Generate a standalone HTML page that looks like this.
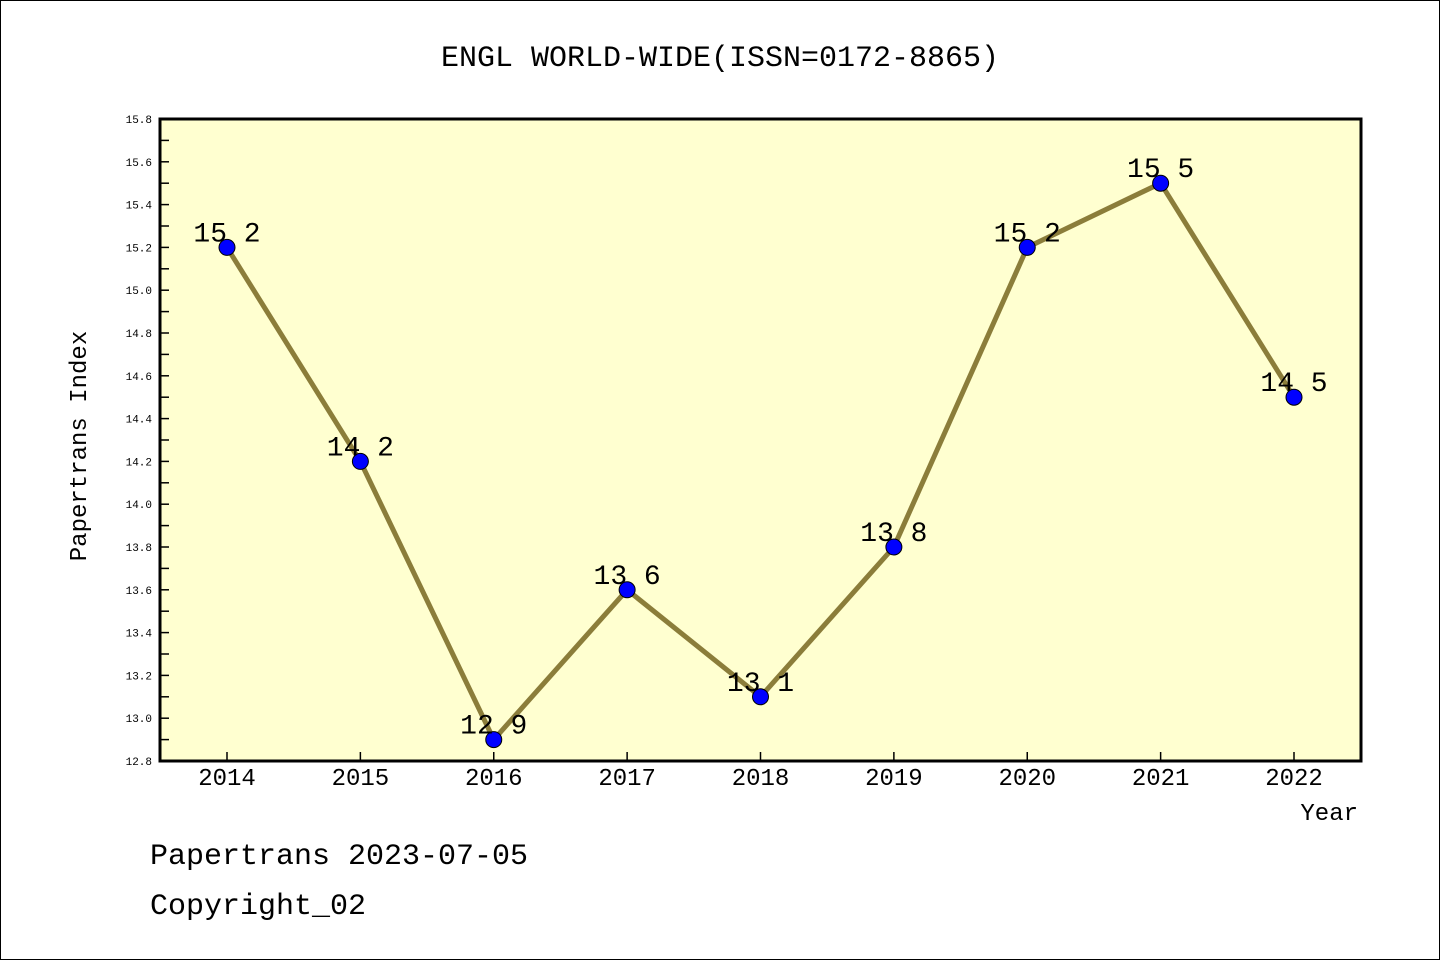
<!DOCTYPE html>
<html><head><meta charset="utf-8"><style>
body{margin:0;background:#fff}
svg text{font-family:"WenQuanYi Zen Hei Mono","Liberation Mono",monospace}
</style></head><body>
<svg width="1440" height="960">
<rect x="0.5" y="0.5" width="1439" height="959" fill="#fff" stroke="#000"/>
<text x="720" y="66" font-size="30" text-anchor="middle">ENGL WORLD-WIDE(ISSN=0172-8865)</text>
<rect x="160" y="119" width="1201" height="642" fill="#ffffd0" stroke="#000" stroke-width="3"/>
<g id="yaxis"></g><g id="xaxis"></g><g id="series"></g>
<text x="86" y="446" font-size="24" text-anchor="middle" transform="rotate(-90 86 446)">Papertrans Index</text>
<text x="1358" y="820" font-size="24" text-anchor="end">Year</text>
<text x="150" y="864" font-size="30">Papertrans 2023-07-05</text>
<text x="150" y="914" font-size="30">Copyright_02</text>
</svg>
<script>
const years=[2014,2015,2016,2017,2018,2019,2020,2021,2022];
const values=[15.2,14.2,12.9,13.6,13.1,13.8,15.2,15.5,14.5];
const yTicks=[12.8,13.0,13.2,13.4,13.6,13.8,14.0,14.2,14.4,14.6,14.8,15.0,15.2,15.4,15.6,15.8];
{
const NS="http://www.w3.org/2000/svg";
const yMin=12.8,yMax=15.8,plotTop=119,plotBot=761;
const y=v=>plotBot-(v-yMin)/(yMax-yMin)*(plotBot-plotTop);
const x=i=>227+i*(1294-227)/(years.length-1);
function mk(t,a,p){const e=document.createElementNS(NS,t);for(const k in a)e.setAttribute(k,a[k]);p.appendChild(e);return e;}
const ya=document.getElementById('yaxis'),xa=document.getElementById('xaxis'),se=document.getElementById('series');
for(let k=0;k<=30;k++){const v=yMin+k*0.1;const l=mk('line',{x1:160,x2:169,y1:y(v),y2:y(v),stroke:'#000','stroke-width':1.5},ya);

}
yTicks.forEach(v=>{const t=mk('text',{x:152,y:y(v)+4,'font-size':11,'text-anchor':'end','font-family':'Liberation Sans, sans-serif'},ya);t.textContent=v.toFixed(1);

});
years.forEach((yr,i)=>{const l=mk('line',{x1:x(i),x2:x(i),y1:plotBot,y2:plotBot-9,stroke:'#000','stroke-width':1.5},xa);


const t=mk('text',{x:x(i),y:785,'font-size':24,'text-anchor':'middle'},xa);t.textContent=yr;

});
const pl=mk('polyline',{points:values.map((v,i)=>x(i)+','+y(v)).join(' '),fill:'none',stroke:'#8b7d3a','stroke-width':5},se);


values.forEach((v,i)=>{const c=mk('circle',{cx:x(i),cy:y(v),r:8,fill:'#0000ff',stroke:'#000','stroke-width':1},se);


const t=mk('text',{x:x(i),y:y(v)-6,'font-size':28,'text-anchor':'middle'},se);t.textContent=v.toFixed(1).replace('.',' ');

});
}
</script>
</body></html>
